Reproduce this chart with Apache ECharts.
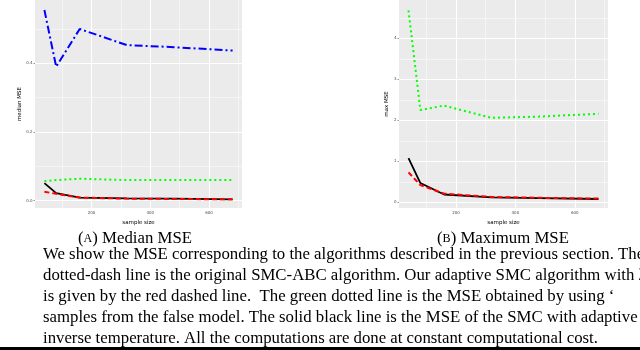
<!DOCTYPE html>
<html><head><meta charset="utf-8">
<script src="https://cdn.jsdelivr.net/npm/echarts@6/dist/echarts.min.js"></script>
<style>html,body{margin:0;padding:0;background:#fff}#c{width:640px;height:350px}</style>
</head><body><div id="c"></div><script>
// ---- data ----
const sampleSize = [40, 80, 160, 320, 480, 680];
// (A) median MSE
const medianSmcAbc   = [0.555, 0.390, 0.500, 0.453, 0.447, 0.437];
const medianAdaptive = [0.026, 0.020, 0.009, 0.006, 0.005, 0.004];
const medianFalse    = [0.057, 0.060, 0.064, 0.060, 0.060, 0.060];
const medianSmcTemp  = [0.051, 0.022, 0.009, 0.007, 0.006, 0.004];
// (B) maximum MSE
const maxAdaptive = [0.73, 0.42, 0.21, 0.13, 0.11, 0.09];
const maxFalse    = [4.68, 2.25, 2.36, 2.06, 2.09, 2.16];
const maxSmcTemp  = [1.08, 0.47, 0.19, 0.12, 0.10, 0.08];
// tick labels / grid values
const xTickLabels = [200, 400, 600];
const xMinorGrid = [100, 300, 500, 700];
const medianYTicks = [0, 0.2, 0.4];
const medianYMinor = [0.1, 0.3, 0.5];
const maxYTicks = [0, 1, 2, 3, 4];
const maxYMinor = [0.5, 1.5, 2.5, 3.5, 4.5];
const captionA = 'Median MSE';
const captionB = 'Maximum MSE';
const bodyLines = [
  'We show the MSE corresponding to the algorithms described in the previous section. The blue',
  'dotted-dash line is the original SMC-ABC algorithm. Our adaptive SMC algorithm with \u03bb',
  'is given by the red dashed line.  The green dotted line is the MSE obtained by using \u2018',
  'samples from the false model. The solid black line is the MSE of the SMC with adaptive choice',
  'inverse temperature. All the computations are done at constant computational cost.'
];

// ---- styling helpers ----
const SERIF = '"Liberation Serif", "DejaVu Serif", serif';
function fit(text, target) {
  const ctx = document.createElement('canvas').getContext('2d');
  ctx.font = '20px ' + SERIF;
  return 20 * target / ctx.measureText(text).width;
}
const bodySize = (fit('We show the MSE corresponding to the algorithms described in the previous section.', 572) +
                  fit(bodyLines[4], 554)) / 2;

const tickFont = {fontSize: 4, color: '#4d4d4d', fontFamily: 'DejaVu Sans'};
const nameFont = {fontSize: 5.5, color: '#000', fontFamily: 'DejaVu Sans'};

function gridLines(xs, ys, w) {
  return xs.map(v => ({xAxis: v, lineStyle: {width: w}})).concat(ys.map(v => ({yAxis: v, lineStyle: {width: w}})));
}
function gridSeries(idx, xMaj, xMin, yMaj, yMin) {
  return {
    type: 'line', xAxisIndex: idx, yAxisIndex: idx, data: [], z: 1, silent: true,
    markLine: {
      silent: true, symbol: 'none', animation: false, z: 1,
      label: {show: false},
      lineStyle: {color: '#ffffff', type: 'solid'},
      emphasis: {disabled: true},
      data: gridLines(xMaj, yMaj, 1).concat(gridLines(xMin, yMin, 0.5))
    }
  };
}
function lineSeries(idx, data, color, type, width) {
  return {
    type: 'line', xAxisIndex: idx, yAxisIndex: idx, z: 3,
    data: sampleSize.map((x, i) => [x, data[i]]),
    showSymbol: false, animation: false, silent: true,
    lineStyle: {color: color, type: type, width: width, cap: 'butt'}
  };
}
function xAxis(idx) {
  return {
    type: 'value', gridIndex: idx, min: 8, max: 712,
    name: 'sample size', nameLocation: 'middle', nameGap: 10, nameTextStyle: nameFont,
    axisLine: {show: false},
    axisTick: {show: true, length: 1.5, lineStyle: {color: '#333', width: 0.5}, customValues: xTickLabels},
    axisLabel: Object.assign({margin: 3, customValues: xTickLabels}, tickFont),
    splitLine: {show: false}
  };
}
function yAxis(idx, min, max, ticks, fmt, name) {
  return {
    type: 'value', gridIndex: idx, min: min, max: max,
    name: name, nameLocation: 'middle', nameGap: 9, nameTextStyle: nameFont,
    axisLine: {show: false},
    axisTick: {show: true, length: 1.5, lineStyle: {color: '#333', width: 0.5}, customValues: ticks},
    axisLabel: Object.assign({margin: 2.5, customValues: ticks, formatter: fmt}, tickFont),
    splitLine: {show: false}
  };
}

const chart = echarts.init(document.getElementById('c'), null, {renderer: 'canvas'});
chart.setOption({
  animation: false,
  backgroundColor: '#ffffff',
  grid: [
    {left: 35, top: 0, width: 207, height: 208, show: true, backgroundColor: '#ebebeb', borderWidth: 0},
    {left: 399, top: 0, width: 209, height: 208, show: true, backgroundColor: '#ebebeb', borderWidth: 0}
  ],
  xAxis: [xAxis(0), xAxis(1)],
  yAxis: [
    yAxis(0, -0.0213, 0.5843, medianYTicks, v => v.toFixed(1), 'median MSE'),
    yAxis(1, -0.139, 4.934, maxYTicks, v => String(Math.round(v)), 'max MSE')
  ],
  series: [
    gridSeries(0, xTickLabels, xMinorGrid, medianYTicks, medianYMinor),
    gridSeries(1, xTickLabels, xMinorGrid, maxYTicks, maxYMinor),
    lineSeries(0, medianSmcTemp, '#000000', 'solid', 1.8),
    lineSeries(0, medianAdaptive, '#ff0000', [5, 3], 2),
    lineSeries(0, medianFalse, '#00ff00', [2, 3], 2),
    lineSeries(0, medianSmcAbc, '#0000ff', [8, 3, 2, 3], 2),
    lineSeries(1, maxSmcTemp, '#000000', 'solid', 1.8),
    lineSeries(1, maxAdaptive, '#ff0000', [5, 3], 2),
    lineSeries(1, maxFalse, '#00ff00', [2, 3], 2)
  ],
  graphic: [
    {type: 'text', x: 78, y: 239, silent: true, style: {
      text: '(' + '{sc|A}' + ') ' + captionA, fill: '#000', verticalAlign: 'middle',
      font: bodySize.toFixed(2) + 'px ' + SERIF,
      rich: {sc: {fontSize: bodySize * 0.72, fontFamily: SERIF, fill: '#000'}}
    }},
    {type: 'text', x: 437, y: 239, silent: true, style: {
      text: '(' + '{sc|B}' + ') ' + captionB, fill: '#000', verticalAlign: 'middle',
      font: bodySize.toFixed(2) + 'px ' + SERIF,
      rich: {sc: {fontSize: bodySize * 0.72, fontFamily: SERIF, fill: '#000'}}
    }}
  ].concat(bodyLines.map((t, i) => ({
    type: 'text', x: 43, y: 255 + i * 21, silent: true,
    style: {text: t, fill: '#000', verticalAlign: 'middle', font: bodySize.toFixed(2) + 'px ' + SERIF}
  }))).concat([
    {type: 'rect', silent: true, shape: {x: 0, y: 347, width: 640, height: 3}, style: {fill: '#000'}}
  ])
});
</script></body></html>
